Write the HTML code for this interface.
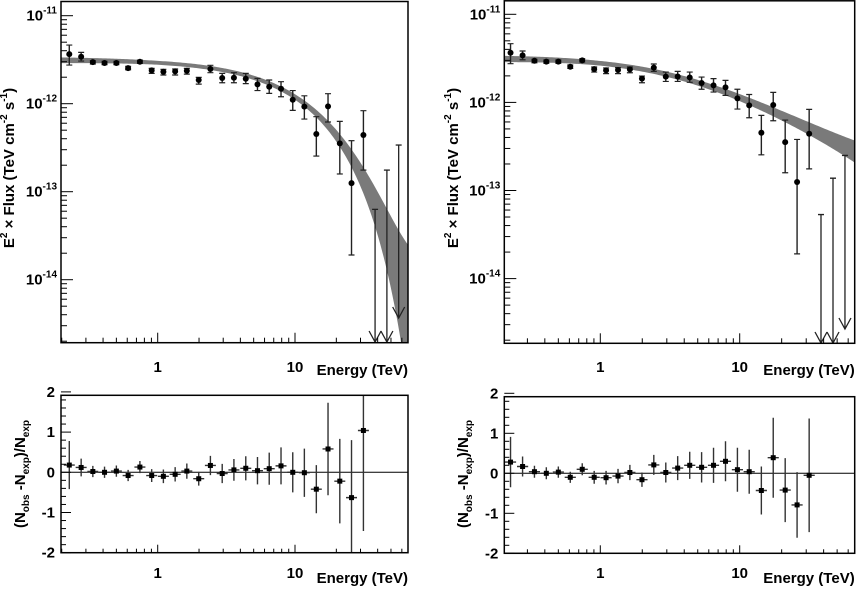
<!DOCTYPE html>
<html><head><meta charset="utf-8"><style>
html,body{margin:0;padding:0;background:#fff;}
svg{display:block;font-family:"Liberation Sans",Arial,sans-serif;font-weight:bold;}
</style></head><body>
<svg id="chart" width="858" height="589" viewBox="0 0 858 589" xmlns="http://www.w3.org/2000/svg"></svg>
<script>
// ---- data ----
const energies = [0.227,0.277,0.337,0.410,0.500,0.609,0.742,0.904,1.10,1.34,1.63,1.99,2.42,2.95,3.59,4.38,5.33,6.49,7.91,9.63,11.7,14.3,17.4,21.2,25.8,31.5];
const fluxVal = [3.66,3.42,2.97,2.90,2.90,2.54,3.00,2.39,2.31,2.33,2.37,1.86,2.48,1.96,1.97,1.92,1.66,1.56,1.48,1.11,0.925,0.452,0.933,0.354,0.125,0.441]; // x1e-12
const fluxHi = [4.64,3.83,3.08,3.03,3.03,2.66,3.13,2.52,2.46,2.48,2.52,1.99,2.73,2.21,2.25,2.21,1.94,1.86,1.78,1.41,1.23,0.712,1.30,0.630,0.380,0.833];
const fluxLo = [2.75,3.05,2.82,2.78,2.78,2.43,2.87,2.21,2.12,2.12,2.17,1.67,2.25,1.73,1.73,1.69,1.41,1.31,1.20,0.840,0.669,0.254,0.619,0.159,0.0191,0.176];
const ulEnergies = [38.3,46.7,56.9];
const ulLeft = [0.063,0.176,0.339];
const ulRight = [0.0533,0.138,0.25];
const resLeft = [0.18,0.12,0.02,0.0,0.03,-0.08,0.13,-0.08,-0.10,-0.05,0.03,-0.16,0.17,-0.03,0.06,0.10,0.04,0.09,0.16,0.0,-0.01,-0.42,0.58,-0.22,-0.63,1.04];
const resLeftErr = [0.6,0.22,0.14,0.14,0.14,0.14,0.15,0.16,0.17,0.18,0.19,0.17,0.24,0.24,0.27,0.3,0.34,0.4,0.46,0.5,0.6,0.6,1.15,1.05,1.43,2.5];
const resRight = [0.28,0.17,0.04,0.0,0.03,-0.10,0.10,-0.10,-0.11,-0.07,0.02,-0.16,0.21,0.02,0.13,0.2,0.15,0.2,0.3,0.09,0.04,-0.43,0.39,-0.42,-0.79,-0.05];
const resRightErr = [0.63,0.25,0.15,0.15,0.14,0.14,0.15,0.16,0.17,0.18,0.19,0.18,0.25,0.25,0.3,0.34,0.38,0.44,0.5,0.55,0.55,0.6,1.0,0.8,0.82,1.42];
// model parameters
const ecplParams = [3.23, 1.99, 9.8];          // N(1e-12), index, cutoff (TeV)
const sbplParams = [0.542, 0.04, 0.9, 3.5];     // logN, low slope, slope change, break (TeV)
const xTickLabels = ["1","10"];
const resTickLabels = ["2","1","0","-1","-2"];

const svg = document.getElementById('chart');
const NS = 'http://www.w3.org/2000/svg';
function mk(tag, attrs, parent){const e=document.createElementNS(NS,tag);for(const k in attrs)e.setAttribute(k,attrs[k]);(parent||svg).appendChild(e);return e;}

const panels = [
 {side:'left', x0:61, x1:408, xa:157.7, xd:137.3, ty0:1.5, ty1:342.7, ya:15.7, yd:88, ry0:395.3, ry1:552.7, r0:472.3, rs:40.2,
  model:function(E){const p=ecplParams;return Math.log10(p[0])+(2-p[1])*Math.log10(E)-E/p[2]/Math.LN10;},
  width:function(E){return 0.022+0.015*Math.max(0,-Math.log10(E))+0.00008*E*E+0.0000015*E*E*E;},
  ul:ulLeft, ulEnd:[342,342,318], res:resLeft, resErr:resLeftErr, ytx:9, rtx:20},
 {side:'right', x0:504.3, x1:854.7, xa:600.3, xd:139.4, ty0:0.8, ty1:343.3, ya:14.3, yd:88.1, ry0:396.7, ry1:553.3, r0:473.3, rs:40,
  model:function(E){const p=sbplParams;return p[0]+p[1]*Math.log10(E)-p[2]*Math.log10(1+E/p[3]);},
  width:function(E){return 0.025+0.015*Math.max(0,-Math.log10(E))+0.0015*E;},
  ul:ulRight, ulEnd:[343,343,329], res:resRight, resErr:resRightErr, ytx:453, rtx:463}
];

panels.forEach(P=>{
  const g = mk('g',{});
  
  
  const X = E => P.xa + P.xd*Math.log10(E);
  const Yl = l => P.ya + (1 - l)*P.yd;
  const Y = v => Yl(Math.log10(v));
  const R = v => P.r0 - P.rs*v;
  const logMin = (P.x0-P.xa)/P.xd, logMax=(P.x1-P.xa)/P.xd;

  const cid='clip-'+P.side;
  const cp=mk('clipPath',{id:cid},g);
  mk('rect',{x:P.x0,y:P.ty0,width:P.x1-P.x0,height:P.ty1-P.ty0},cp);
  const rcid='rclip-'+P.side;
  const rcp=mk('clipPath',{id:rcid},g);
  mk('rect',{x:P.x0,y:P.ry0,width:P.x1-P.x0,height:P.ry1-P.ry0},rcp);

  let up=[],dn=[];
  for(let i=0;i<=200;i++){const l=logMin+(logMax-logMin)*i/200;const E=Math.pow(10,l);const m=P.model(E),w=P.width(E);
    up.push(X(E).toFixed(2)+','+Yl(m+w).toFixed(2));dn.unshift(X(E).toFixed(2)+','+Yl(m-w).toFixed(2));}
  const band=mk('polygon',{points:up.concat(dn).join(' '),fill:'#7a7a7a','clip-path':'url(#'+cid+')'},g);
  
  

  energies.forEach((E,i)=>{
    const x=X(E);
    const pg=mk('g',{'clip-path':'url(#'+cid+')'},g);
    
    
    mk('line',{x1:x,x2:x,y1:Y(fluxHi[i]),y2:Y(fluxLo[i]),stroke:'#222','stroke-width':1.4},pg);
    mk('line',{x1:x-3,x2:x+3,y1:Y(fluxHi[i]),y2:Y(fluxHi[i]),stroke:'#222','stroke-width':1.2},pg);
    mk('line',{x1:x-3,x2:x+3,y1:Y(fluxLo[i]),y2:Y(fluxLo[i]),stroke:'#222','stroke-width':1.2},pg);
    mk('circle',{cx:x,cy:Y(fluxVal[i]),r:3,fill:'#000'},pg);
  });
  ulEnergies.forEach((E,i)=>{
    const x=X(E), y1=Y(P.ul[i]), y2=P.ulEnd[i];
    const ag=mk('g',{'clip-path':'url(#'+cid+')',stroke:'#222','stroke-width':1.3,fill:'none'},g);
    
    
    mk('line',{x1:x,x2:x,y1:y1,y2:y2},ag);
    mk('line',{x1:x-3,x2:x+3,y1:y1,y2:y1},ag);
    mk('polyline',{points:(x-6)+','+(y2-11)+' '+x+','+y2+' '+(x+6)+','+(y2-11)},ag);
  });

  const fr=mk('rect',{x:P.x0,y:P.ty0,width:P.x1-P.x0,height:P.ty1-P.ty0,fill:'none',stroke:'#000','stroke-width':1.5},g);
  
  
  const tk=mk('g',{stroke:'#000','stroke-width':1},g);
  for(let d=-1;d<=1;d++)for(let m=1;m<=9;m++){const E=m*Math.pow(10,d);const l=Math.log10(E);if(l<logMin||l>logMax)continue;
    const x=X(E);const len=m===1?10:5;
    mk('line',{x1:x,x2:x,y1:P.ty1,y2:P.ty1-len},tk);
    mk('line',{x1:x,x2:x,y1:P.ry1,y2:P.ry1-(m===1?8:4)},tk);}
  for(let d=-15;d<=-11;d++)for(let m=1;m<=9;m++){const y=P.ya+(-11-(d+Math.log10(m)))*P.yd;if(y<P.ty0||y>P.ty1)continue;
    mk('line',{x1:P.x0,x2:P.x0+(m===1?12:6),y1:y,y2:y},tk);}
  [-11,-12,-13,-14].forEach(d=>{const y=P.ya+(-11-d)*P.yd;
    const t=mk('text',{x:P.x0-4,y:y+5,'text-anchor':'end','font-size':15},g);
    
    
    t.appendChild(document.createTextNode('10'));
    const s=mk('tspan',{'font-size':10,dy:-7},t);s.textContent=String(d);});
  [1,10].forEach((E,i)=>{
    const t1=mk('text',{x:X(E),y:372,'text-anchor':'middle','font-size':15},g);t1.textContent=xTickLabels[i];
    
    
    const t2=mk('text',{x:X(E),y:578,'text-anchor':'middle','font-size':15},g);t2.textContent=xTickLabels[i];
    
    
  });
  [375,583].forEach(yy=>{const t=mk('text',{x:P.x1,y:yy,'text-anchor':'end','font-size':15},g);t.textContent='Energy (TeV)';
    
    });
  const yt=mk('text',{transform:'translate('+(P.ytx+5)+',168) rotate(-90)','text-anchor':'middle','font-size':15},g);
  
  
  yt.appendChild(document.createTextNode('E'));
  let s=mk('tspan',{'font-size':10,dy:-7},yt);s.textContent='2';
  s=mk('tspan',{dy:7},yt);s.textContent=' \u00d7 Flux (TeV cm';
  s=mk('tspan',{'font-size':10,dy:-7},yt);s.textContent='-2';
  s=mk('tspan',{dy:7},yt);s.textContent=' s';
  s=mk('tspan',{'font-size':10,dy:-7},yt);s.textContent='-1';
  s=mk('tspan',{dy:7},yt);s.textContent=')';

  const zl=mk('line',{x1:P.x0,x2:P.x1,y1:R(0),y2:R(0),stroke:'#000','stroke-width':1},g);
  
  
  energies.forEach((E,i)=>{
    const x=X(E), y=R(P.res[i]);
    const rg=mk('g',{'clip-path':'url(#'+rcid+')'},g);
    
    
    mk('line',{x1:x,x2:x,y1:R(P.res[i]+P.resErr[i]),y2:R(P.res[i]-P.resErr[i]),stroke:'#333','stroke-width':1.4},rg);
    const hw=P.xd*0.04;
    mk('line',{x1:x-hw,x2:x+hw,y1:y,y2:y,stroke:'#333','stroke-width':1.4},rg);
    mk('rect',{x:x-2.5,y:y-2.5,width:5,height:5,fill:'#000'},rg);
  });
  const rf=mk('rect',{x:P.x0,y:P.ry0,width:P.x1-P.x0,height:P.ry1-P.ry0,fill:'none',stroke:'#000','stroke-width':1.5},g);
  
  
  for(let v=-2;v<=2.001;v+=0.2){const y=R(v);const maj=Math.abs(v-Math.round(v))<0.01;
    mk('line',{x1:P.x0,x2:P.x0+(maj?10:5),y1:y,y2:y,stroke:'#000','stroke-width':1},g);}
  [2,1,0,-1,-2].forEach((v,i)=>{const t=mk('text',{x:P.x0-6,y:R(v)+5,'text-anchor':'end','font-size':15},g);t.textContent=resTickLabels[i];
    
    });
  const rt=mk('text',{transform:'translate('+(P.rtx+5)+',474) rotate(-90)','text-anchor':'middle','font-size':15},g);
  
  
  rt.appendChild(document.createTextNode('(N'));
  s=mk('tspan',{'font-size':10,dy:4},rt);s.textContent='obs';
  s=mk('tspan',{dy:-4},rt);s.textContent=' -N';
  s=mk('tspan',{'font-size':10,dy:4},rt);s.textContent='exp';
  s=mk('tspan',{dy:-4},rt);s.textContent=')/N';
  s=mk('tspan',{'font-size':10,dy:4},rt);s.textContent='exp';
});
</script>
</body></html>
